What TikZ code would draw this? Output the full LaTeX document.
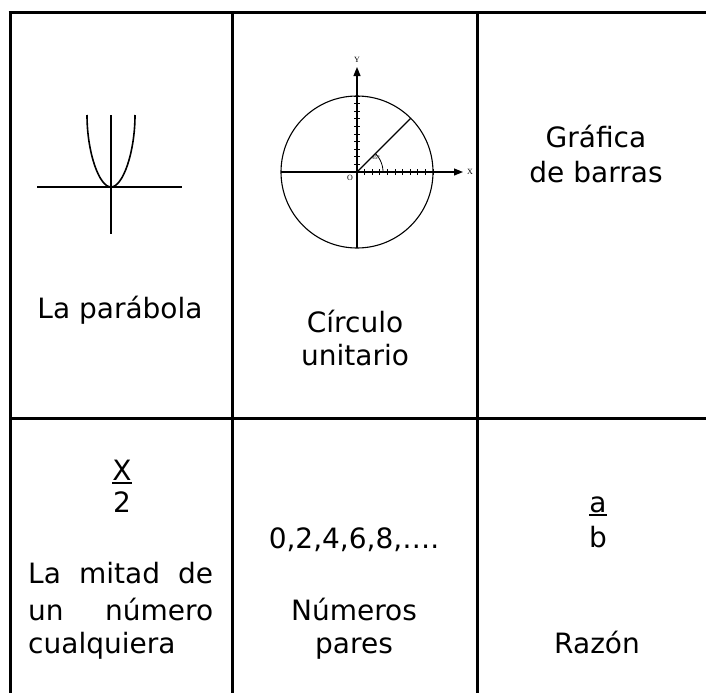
\documentclass[tikz,border=0pt]{standalone}
\usepackage{fontspec}
\setmainfont{DejaVu Sans}
\newfontfamily\lblfont{Liberation Serif}
\usetikzlibrary{arrows.meta}
\begin{document}
\begin{tikzpicture}[x=1pt,y=-1pt,
  grid/.style={line width=3pt},
  txt/.style={font=\fontsize{28}{34}\selectfont, inner sep=0pt, anchor=base},
  thinline/.style={line width=1.1pt},
  tick/.style={line width=0.8pt},
  tiny/.style={font=\lblfont\fontsize{8}{9}\selectfont, inner sep=0pt},
  ulin/.style={line width=1.8pt},
  arr/.style={-{Triangle[length=9pt,width=7pt]}}]
\useasboundingbox[fill=white] (0,0) rectangle (706,693);
% table grid
\draw[grid] (8.5,13) -- (706,13);
\draw[grid] (10,11.5) -- (10,693);
\draw[grid] (232,13) -- (232,693);
\draw[grid] (477,13) -- (477,693);
\draw[grid] (10,418) -- (706,418);
% parabola
\draw[line width=1.2pt] (37,187) -- (182,187);
\draw[line width=1.2pt] (111,115) -- (111,234);
\draw[line width=1.6pt] (87,115) .. controls (87,152) and (99,187) .. (111,187)
  .. controls (123,187) and (135,152) .. (135,115);
% unit circle
\coordinate (O) at (357,172);
\draw[thinline] (O) circle[radius=76pt];
\draw[thinline,arr] (281,172) -- (463,172);
\draw[thinline,arr] (357,248) -- (357,67);
\foreach \k in {1,...,10} {
  \draw[tick] ({357+7.6*\k},169) -- ({357+7.6*\k},175);
  \draw[tick] (354,{172-7.6*\k}) -- (360,{172-7.6*\k});
}
\draw[thinline] (O) -- ({357+53.74},{172-53.74});
\draw[line width=0.8pt] plot[domain=0:45, samples=20] ({357+26*cos(\x)},{172-26*sin(\x)});
\node[tiny] (ylab) at (357,60) {Y};
\node[tiny, anchor=west] (xlab) at (467,172) {X};
\node[tiny] (olab) at (350,178) {O};
\node[tiny, font=\lblfont\fontsize{5.5}{6}\selectfont] (ang) at (376,158) {45°};
% texts
\node[txt] (parab) at (120,318) {La parábola};
\node[txt] (circ1) at (355,332) {Círculo};
\node[txt] (circ2) at (355,365) {unitario};
\node[txt] (graf1) at (596,147) {Gráfica};
\node[txt] (graf2) at (596,182) {de barras};
\node[txt] (xnum) at (122,480) {X};
\node[txt] (xden) at (122,512) {2};
\draw[ulin] ([yshift=-3pt]xnum.base west) -- ([yshift=-3pt]xnum.base east);
\node[txt, anchor=base west] (mit1) at (28,583) {\hbox to 185pt{La\hfill mitad\hfill de}};
\node[txt, anchor=base west] (mit2) at (28,620) {\hbox to 185pt{un\hfill número}};
\node[txt, anchor=base west] (mit3) at (28,653) {cualquiera};
\node[txt] (pares0) at (354,548) {0,2,4,6,8,….};
\node[txt] (pares1) at (354,620) {Números};
\node[txt] (pares2) at (354,653) {pares};
\node[txt] (anum) at (598,512) {a};
\node[txt] (bden) at (598,547) {b};
\draw[ulin] ([yshift=-3pt]anum.base west) -- ([yshift=-3pt]anum.base east);
\node[txt] (raz) at (597,653) {Razón};
\end{tikzpicture}
\end{document}
